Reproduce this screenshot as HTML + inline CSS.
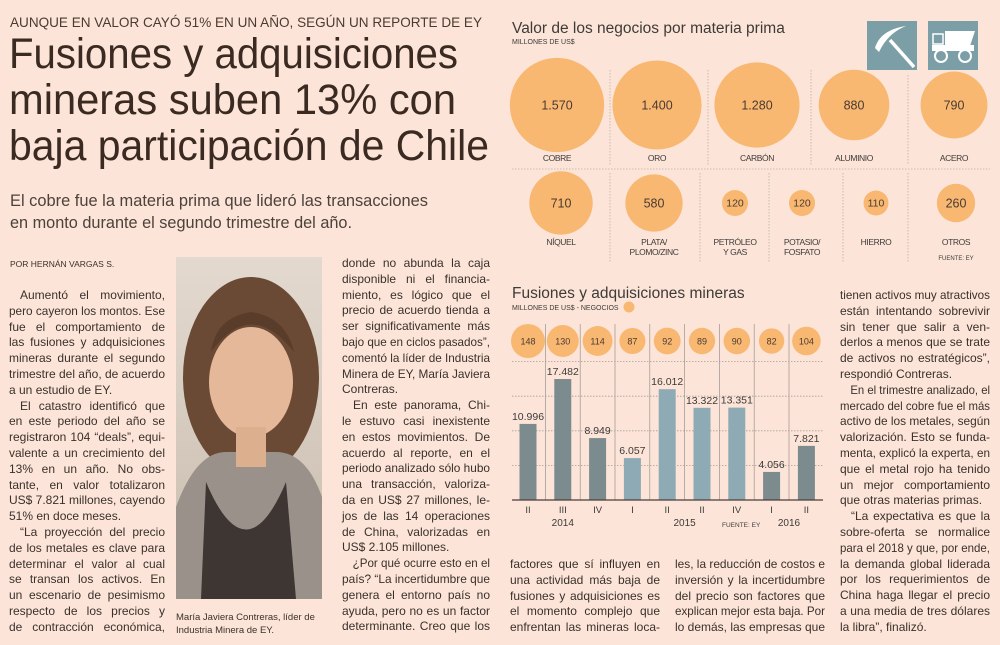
<!DOCTYPE html>
<html><head><meta charset="utf-8">
<style>
*{margin:0;padding:0;box-sizing:border-box}
body{width:1000px;height:645px;overflow:hidden;background:#fce5d8;font-family:"Liberation Sans",sans-serif;color:#3b2f2a;position:relative}
.abs{position:absolute}
.fit{white-space:nowrap;transform-origin:0 0;display:block}
.col{position:absolute;font-size:12px;line-height:15.8px;color:#3a302b}
.col div{white-space:nowrap;text-align:justify;text-align-last:justify;height:15.8px}
.col div.e{text-align-last:left}
.col div.i{padding-left:11px}
</style></head><body>

<div class="abs fit" data-w="472" style="left:10px;top:14px;font-size:14px;color:#4a3a30;">AUNQUE EN VALOR CAYÓ 51% EN UN AÑO, SEGÚN UN REPORTE DE EY</div>
<div class="abs" style="left:9px;top:31px;font-size:43px;line-height:46px;color:#3b2a22;">
<div class="fit" data-w="449">Fusiones y adquisiciones</div>
<div class="fit" data-w="447">mineras suben 13% con</div>
<div class="fit" data-w="480">baja participación de Chile</div>
</div>
<div class="abs" style="left:10px;top:190px;font-size:17px;line-height:22px;color:#4d413b;">
<div class="fit" data-w="418">El cobre fue la materia prima que lideró las transacciones</div>
<div class="fit" data-w="342">en monto durante el segundo trimestre del año.</div>
</div>
<div class="abs" style="left:10px;top:259px;font-size:8.5px;color:#3a302b;">POR HERNÁN VARGAS S.</div>

<div class="col" data-cw="156" style="left:9px;top:288px;width:156px;">
<div class="i">Aumentó el movimiento,</div>
<div>pero cayeron los montos. Ese</div>
<div>fue el comportamiento de</div>
<div>las fusiones y adquisiciones</div>
<div>mineras durante el segundo</div>
<div>trimestre del año, de acuerdo</div>
<div class="e">a un estudio de EY.</div>
<div class="i">El catastro identificó que</div>
<div>en este periodo del año se</div>
<div>registraron 104 “deals”, equi-</div>
<div>valente a un crecimiento del</div>
<div>13% en un año. No obs-</div>
<div>tante, en valor totalizaron</div>
<div>US$ 7.821 millones, cayendo</div>
<div class="e">51% en doce meses.</div>
<div class="i">“La proyección del precio</div>
<div>de los metales es clave para</div>
<div>determinar el valor al cual</div>
<div>se transan los activos. En</div>
<div>un escenario de pesimismo</div>
<div>respecto de los precios y</div>
<div>de contracción económica,</div>
</div>

<svg class="abs" style="left:176px;top:257px" width="146" height="342">
<defs><linearGradient id="bg" x1="0" y1="0" x2="0" y2="1"><stop offset="0" stop-color="#e3d9cf"/><stop offset="1" stop-color="#c9bcae"/></linearGradient></defs>
<rect width="146" height="342" fill="url(#bg)"/>
<ellipse cx="75" cy="120" rx="68" ry="100" fill="#6b4a35"/>
<path d="M0 250 Q20 195 50 195 L100 195 Q130 195 146 240 L146 342 L0 342Z" fill="#9a918a"/>
<path d="M30 225 Q70 320 110 225 L120 342 L25 342Z" fill="#3e3632"/>
<ellipse cx="75" cy="125" rx="42" ry="55" fill="#e4b898"/>
<rect x="60" y="170" width="30" height="40" fill="#dcaf8f"/>
<path d="M35 95 Q75 40 118 95 Q110 60 75 55 Q40 60 35 95Z" fill="#5a3c2a"/>
</svg>
<div class="abs" style="left:176px;top:611px;font-size:9.5px;line-height:13px;color:#3a302b;">María Javiera Contreras, líder de<br>Industria Minera de EY.</div>

<div class="col" data-cw="148" style="left:342px;top:256px;width:148px;">
<div>donde no abunda la caja</div>
<div>disponible ni el financia-</div>
<div>miento, es lógico que el</div>
<div>precio de acuerdo tienda a</div>
<div>ser significativamente más</div>
<div>bajo que en ciclos pasados”,</div>
<div>comentó la líder de Industria</div>
<div>Minera de EY, María Javiera</div>
<div class="e">Contreras.</div>
<div class="i">En este panorama, Chi-</div>
<div>le estuvo casi inexistente</div>
<div>en estos movimientos. De</div>
<div>acuerdo al reporte, en el</div>
<div>periodo analizado sólo hubo</div>
<div>una transacción, valoriza-</div>
<div>da en US$ 27 millones, le-</div>
<div>jos de las 14 operaciones</div>
<div>de China, valorizadas en</div>
<div class="e">US$ 2.105 millones.</div>
<div class="i">¿Por qué ocurre esto en el</div>
<div>país? “La incertidumbre que</div>
<div>genera el entorno país no</div>
<div>ayuda, pero no es un factor</div>
<div>determinante. Creo que los</div>
</div>

<div class="col" data-cw="150" style="left:510px;top:557px;width:150px;">
<div>factores que sí influyen en</div>
<div>una actividad más baja de</div>
<div>fusiones y adquisiciones es</div>
<div>el momento complejo que</div>
<div>enfrentan las mineras loca-</div>
</div>
<div class="col" data-cw="150" style="left:675px;top:557px;width:150px;">
<div>les, la reducción de costos e</div>
<div>inversión y la incertidumbre</div>
<div>del precio son factores que</div>
<div>explican mejor esta baja. Por</div>
<div>lo demás, las empresas que</div>
</div>
<div class="col" data-cw="150" style="left:840px;top:288px;width:150px;">
<div>tienen activos muy atractivos</div>
<div>están intentando sobrevivir</div>
<div>sin tener que salir a ven-</div>
<div>derlos a menos que se trate</div>
<div>de activos no estratégicos”,</div>
<div class="e">respondió Contreras.</div>
<div class="i">En el trimestre analizado, el</div>
<div>mercado del cobre fue el más</div>
<div>activo de los metales, según</div>
<div>valorización. Esto se funda-</div>
<div>menta, explicó la experta, en</div>
<div>que el metal rojo ha tenido</div>
<div>un mejor comportamiento</div>
<div class="e">que otras materias primas.</div>
<div class="i">“La expectativa es que la</div>
<div>sobre-oferta se normalice</div>
<div>para el 2018 y que, por ende,</div>
<div>la demanda global liderada</div>
<div>por los requerimientos de</div>
<div>China haga llegar el precio</div>
<div>a una media de tres dólares</div>
<div class="e">la libra”, finalizó.</div>
</div>

<!-- Bubble chart -->
<svg class="abs" id="bub" style="left:0;top:0" width="1000" height="270">
<text x="512" y="33" font-size="15.5" fill="#3e3a38">Valor de los negocios por materia prima</text>
<text x="512" y="44" font-size="7" fill="#3e3a38">MILLONES DE US$</text>
<g>
<rect x="867" y="21" width="50" height="49" fill="#7c9ea6"/>
<path d="M875 48 Q880 30 906 26 Q888 33 879 52Z" fill="#fff"/>
<line x1="890" y1="40" x2="914" y2="67" stroke="#fff" stroke-width="3.5"/>
</g>
<g>
<rect x="928" y="21" width="50" height="49" fill="#7c9ea6"/>
<rect x="933" y="34" width="10" height="10" fill="none" stroke="#fff" stroke-width="1.5"/>
<path d="M945 31 L975 31 L970 46 L945 46Z" fill="#fff"/>
<rect x="932" y="45" width="42" height="6" fill="#fff"/>
<circle cx="941" cy="56" r="6" fill="none" stroke="#fff" stroke-width="2"/>
<circle cx="965" cy="56" r="6" fill="none" stroke="#fff" stroke-width="2"/>
</g>
<g id="bubG"></g>
</svg>

<!-- Bar chart -->
<svg class="abs" id="bar" style="left:0;top:0" width="1000" height="540">
<text x="512" y="298" font-size="15.5" fill="#3e3a38">Fusiones y adquisiciones mineras</text>
<text x="512" y="310" font-size="7" fill="#3e3a38">MILLONES DE US$ - NEGOCIOS</text>
<circle cx="629" cy="307" r="5.5" fill="#f8b872"/>
<g id="barG"></g>
<text x="722" y="527" font-size="6.5" fill="#3e3a38">FUENTE: EY</text>
</svg>

<script>
// ---- Bubble chart data ----
const commodities = ["COBRE","ORO","CARBÓN","ALUMINIO","ACERO","NÍQUEL","PLATA/\nPLOMO/ZINC","PETRÓLEO\nY GAS","POTASIO/\nFOSFATO","HIERRO","OTROS"];
const commodityValues = [1570,1400,1280,880,790,710,580,120,120,110,260];
const commodityLabels = ["1.570","1.400","1.280","880","790","710","580","120","120","110","260"];
const NS="http://www.w3.org/2000/svg";
function mk(tag,attrs,parent){const e=document.createElementNS(NS,tag);for(const k in attrs)e.setAttribute(k,attrs[k]);parent.appendChild(e);return e;}
(function(){
  const g=document.getElementById('bubG');
  const cx=[557,657,757,854,954,561,654,735,802,876,956];
  const rowY=[105,203];
  const labY=[161,245];
  const rScale=v=>1.19*Math.sqrt(v);
  [[610,70,165],[708,70,165],[811,70,165],[908,75,165],[610,173,262],[700,173,262],[769,173,262],[843,173,262],[908,173,262]].forEach(l=>{
    const ln=mk('line',{x1:l[0],x2:l[0],y1:l[1],y2:l[2],stroke:'#bbb0a8','stroke-width':0.8,'stroke-dasharray':'1.5,1.5'},g);
    
    
  });
  const hl=mk('line',{x1:512,x2:990,y1:169,y2:169,stroke:'#bbb0a8','stroke-width':0.8,'stroke-dasharray':'1.5,1.5'},g);
  
  
  commodities.forEach((c,i)=>{
    const row=i<5?0:1;
    const r=rScale(commodityValues[i]);
    const circ=mk('circle',{cx:cx[i],cy:rowY[row],r:r,fill:'#f8b872'},g);
    
    
    const small=commodityValues[i]<200;
    const t=mk('text',{x:cx[i],y:rowY[row]+(small?3.5:4.5),'text-anchor':'middle','font-size':small?10.5:12.5,fill:'#4a3a30'},g);
    t.textContent=commodityLabels[i];
    
    
    c.split('\n').forEach((ln,j)=>{
      const tl=mk('text',{x:cx[i],y:labY[row]+j*10,'text-anchor':'middle','font-size':8.5,'letter-spacing':'-0.4',fill:'#3e3a38'},g);
      tl.textContent=ln;
      
      
    });
  });
  const f=mk('text',{x:956,y:260,'text-anchor':'middle','font-size':6,fill:'#3e3a38'},g);
  f.textContent='FUENTE: EY';
  
  
})();

// ---- Bar chart data ----
const quarters = ["II","III","IV","I","II","II","IV","I","II"];
const yearLabels = ["2014","2015","2016"];
const dealValues = [10996,17482,8949,6057,16012,13322,13351,4056,7821];
const dealValueLabels = ["10.996","17.482","8.949","6.057","16.012","13.322","13.351","4.056","7.821"];
const dealCounts = [148,130,114,87,92,89,90,82,104];
const quarterYear = [2014,2014,2014,2015,2015,2015,2015,2016,2016];
const gridTicks = [0,5000,10000,15000,20000];
(function(){
  const g=document.getElementById('barG');
  const x0=528, step=34.8, base=500, k=0.00692;
  const xs=i=>x0+i*step;
  const ys=v=>base-v*k;
  for(let i=0;i<quarters.length-1;i++){
    const l=mk('line',{x1:xs(i)+step/2,x2:xs(i)+step/2,y1:324,y2:base,stroke:'#9a9390','stroke-width':0.7},g);
    
    
  }
  gridTicks.slice(1).forEach(v=>{
    const l=mk('line',{x1:512,x2:823,y1:ys(v),y2:ys(v),stroke:'#a59d98','stroke-width':0.8,'stroke-dasharray':'1.5,1.5'},g);
    
    
  });
  dealValues.forEach((v,i)=>{
    const col=quarterYear[i]===2015?'#8eabb5':'#7c8b8d';
    const r=mk('rect',{x:xs(i)-8.5,y:ys(v),width:17,height:base-ys(v),fill:col},g);
    
    
    const t=mk('text',{x:xs(i),y:ys(v)-4,'text-anchor':'middle','font-size':10.5,fill:'#3e3a38'},g);
    t.textContent=dealValueLabels[i];
    
    
    const c=mk('circle',{cx:xs(i),cy:341,r:1.4*Math.sqrt(dealCounts[i]),fill:'#f8b872'},g);
    
    
    const ct=mk('text',{x:xs(i),y:344.5,'text-anchor':'middle','font-size':9,fill:'#4a3a30'},g);
    ct.textContent=dealCounts[i];
    
    
    const q=mk('text',{x:xs(i),y:513,'text-anchor':'middle','font-size':9.5,fill:'#3e3a38'},g);
    q.textContent=quarters[i];
    
    
  });
  const bl=mk('line',{x1:512,x2:823,y1:base,y2:base,stroke:'#4a3f3a','stroke-width':1.2},g);
  
  
  yearLabels.forEach(y=>{
    const idx=quarterYear.map((q,i)=>q==+y?i:-1).filter(i=>i>=0);
    const mid=(xs(idx[0])+xs(idx[idx.length-1]))/2;
    const t=mk('text',{x:mid,y:526,'text-anchor':'middle','font-size':10,fill:'#3e3a38'},g);
    t.textContent=y;
    
    
  });
})();

document.querySelectorAll('.fit').forEach(el=>{
  const w=+el.dataset.w; el.style.display='inline-block';
  const n=el.getBoundingClientRect().width;
  if(n>0) el.style.transform='scaleX('+(w/n)+')';
  el.style.display='block'; el.style.width=n+'px';
});
document.querySelectorAll('.col').forEach(col=>{
  const cw=+col.dataset.cw;
  col.querySelectorAll('div').forEach(d=>{
    const pad=d.classList.contains('i')?11:0;
    const s=document.createElement('span');s.style.whiteSpace='nowrap';
    s.textContent=d.textContent;d.textContent='';d.appendChild(s);
    const n=s.getBoundingClientRect().width+pad;
    d.textContent=s.textContent;
    if(n>cw){d.style.width=n+'px';d.style.transformOrigin='0 0';d.style.transform='scaleX('+(cw/n)+')';}
  });
});
</script>
</body></html>
